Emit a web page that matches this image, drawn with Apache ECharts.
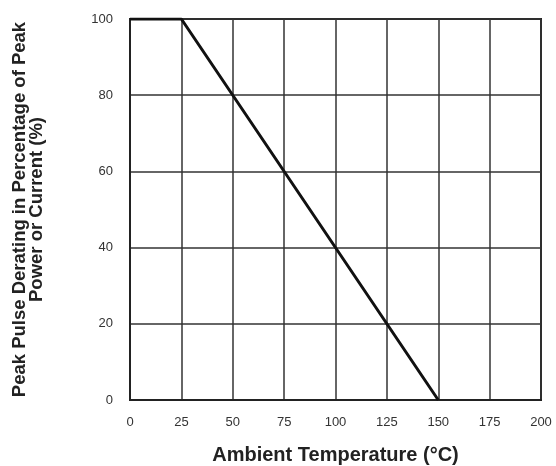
<!DOCTYPE html>
<html><head><meta charset="utf-8">
<script src="https://cdn.jsdelivr.net/npm/echarts@6/dist/echarts.min.js"></script>
<style>html,body{margin:0;padding:0;background:#fff}#c{width:556px;height:466px}</style>
</head><body><div id="c"></div>
<script>
var temperature = [0, 25, 150];
var derating = [100, 100, 0];
var xTicks = [0, 25, 50, 75, 100, 125, 150, 175, 200];
var yTicks = [0, 20, 40, 60, 80, 100];

var chart = echarts.init(document.getElementById('c'));
var data = temperature.map(function (t, i) { return [t, derating[i]]; });
chart.setOption({
  animation: false,
  grid: { left: 130, right: 15, top: 19, bottom: 66, show: true, borderColor: '#222', borderWidth: 2,
          outerBoundsMode: 'none', containLabel: false },
  xAxis: {
    type: 'value', min: xTicks[0], max: xTicks[xTicks.length - 1], interval: xTicks[1] - xTicks[0],
    name: 'Ambient Temperature (°C)', nameLocation: 'middle', nameGap: 45,
    nameTextStyle: { fontFamily: 'Liberation Sans', fontWeight: 'bold', fontSize: 20, color: '#222' },
    axisLine: { lineStyle: { color: '#222', width: 2 } },
    axisTick: { show: false },
    axisLabel: { fontFamily: 'Liberation Sans', fontSize: 13, color: '#333', margin: 16 },
    splitLine: { lineStyle: { color: '#333', width: 1.5 } }
  },
  yAxis: {
    type: 'value', min: yTicks[0], max: yTicks[yTicks.length - 1], interval: yTicks[1] - yTicks[0],
    name: 'Peak Pulse Derating in Percentage of Peak\nPower or Current (%)', nameLocation: 'middle', nameGap: 85,
    nameTextStyle: { fontFamily: 'Liberation Sans', fontWeight: 'bold', fontSize: 18.5, color: '#222', lineHeight: 16.5 },
    axisLine: { lineStyle: { color: '#222', width: 2 } },
    axisTick: { show: false },
    axisLabel: { fontFamily: 'Liberation Sans', fontSize: 13, color: '#333', margin: 17 },
    splitLine: { lineStyle: { color: '#333', width: 1.5 } }
  },
  series: [{
    type: 'line', data: data, symbol: 'none',
    lineStyle: { color: '#111', width: 3 }
  }]
});
</script></body></html>
